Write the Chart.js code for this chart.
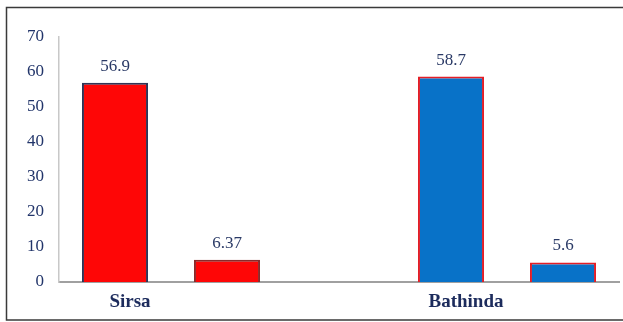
<!DOCTYPE html>
<html>
<head>
<meta charset="utf-8">
<script src="https://cdn.jsdelivr.net/npm/chart.js@4/dist/chart.umd.min.js"></script>
<style>
  html, body { margin: 0; padding: 0; background: #fff; }
  #wrap { width: 623px; height: 322px; }
</style>
</head>
<body>
<div id="wrap"><canvas id="grafico" width="623" height="322"></canvas></div>
<script>
// slots on the x axis: Sirsa pair, an empty gap, Bathinda pair
const slotLabels = ['Sirsa', '', '', 'Bathinda', ''];
const barValues = [56.9, 6.37, null, 58.7, 5.6];
const valueTexts = ['56.9', '6.37', '', '58.7', '5.6'];
const yTicks = [0, 10, 20, 30, 40, 50, 60, 70];

const fillColors = ['#fe0606', '#fe0606', '#fff', '#0872c8', '#0872c8'];
const edgeColors = ['#2e3456', '#8a2a2a', '#fff', '#e41e26', '#e41e26'];

const ctx = document.getElementById('grafico');

// frame around the picture
const moldura = {
    id: 'moldura',
    beforeDraw(chart) {
        const c = chart.ctx;
        c.save();
        c.strokeStyle = '#3a3a3a';
        c.lineWidth = 1.5;
        c.beginPath();
        c.moveTo(623, 7.5);
        c.lineTo(6.5, 7.5);
        c.lineTo(6.5, 320);
        c.lineTo(623, 320);
        c.stroke();
        c.restore();
    }
};

// numbers above the bars
const rotulos = {
    id: 'rotulos',
    afterDatasetsDraw(chart) {
        const c = chart.ctx;
        const meta = chart.getDatasetMeta(0);
        c.save();
        c.font = '17px "Liberation Serif", "Times New Roman", serif';
        c.fillStyle = '#2a3a66';
        c.textAlign = 'center';
        c.textBaseline = 'alphabetic';
        meta.data.forEach((bar, i) => {
            if (barValues[i] == null) return;
            c.fillText(valueTexts[i], bar.x, bar.y - 12);
        });
        c.restore();
    }
};

new Chart(ctx, {
    type: 'bar',
    data: {
        labels: slotLabels,
        datasets: [{
            data: barValues,
            backgroundColor: fillColors,
            borderColor: edgeColors,
            borderWidth: 2,
            categoryPercentage: 1,
            barPercentage: 0.59
        }]
    },
    options: {
        responsive: false,
        animation: false,
        layout: { padding: { top: 37, right: 4, left: 0, bottom: 0 } },
        plugins: {
            legend: { display: false },
            tooltip: { enabled: false }
        },
        scales: {
            x: {
                grid: { display: false, drawTicks: false },
                border: { display: true, color: '#a0a0a0', width: 2 },
                ticks: {
                    autoSkip: false,
                    maxRotation: 0,
                    padding: 9,
                    labelOffset: 15,
                    color: '#1c2b5c',
                    font: { family: '"Liberation Serif", "Times New Roman", serif', size: 19, weight: 'bold' }
                },
                afterFit(scale) { scale.height = 40; }
            },
            y: {
                min: 0,
                max: 70,
                grid: { display: false, drawTicks: false },
                border: { display: true, color: '#c8c8c8', width: 1.5 },
                afterBuildTicks(scale) { scale.ticks = yTicks.map(v => ({ value: v })); },
                ticks: {
                    padding: 15,
                    color: '#22356a',
                    font: { family: '"Liberation Serif", "Times New Roman", serif', size: 17 }
                },
                afterFit(scale) { scale.width = 59; }
            }
        }
    },
    plugins: [moldura, rotulos]
});
</script>
</body>
</html>
